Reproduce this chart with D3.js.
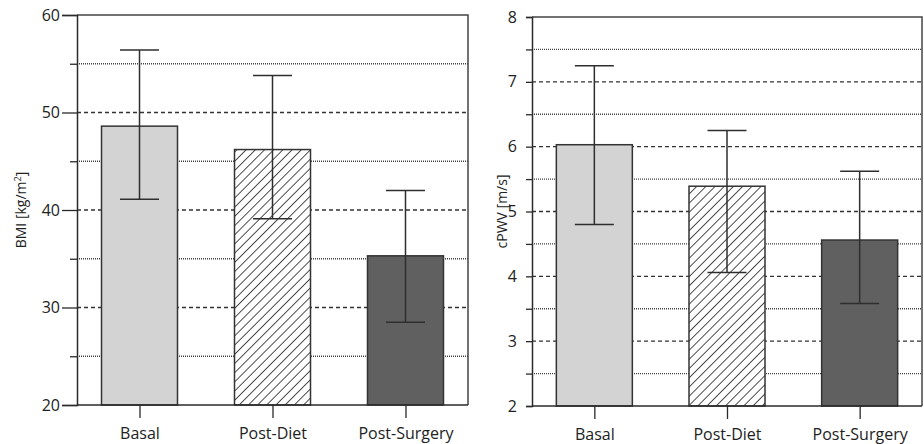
<!DOCTYPE html>
<html>
<head>
<meta charset="utf-8">
<script src="https://cdn.jsdelivr.net/npm/d3@7"></script>
<style>
  body { margin: 0; background: #fff; }
  svg { display: block; font-family: "Open Sans", sans-serif; }
</style>
</head>
<body>
<svg id="chart" width="924" height="444"></svg>
<script>
// data
const categories = ["Basal", "Post-Diet", "Post-Surgery"];
const fills = ["#d3d3d3", "url(#hatch)", "#606060"];

const bmiMean = [48.6, 46.2, 35.3];
const bmiLow  = [41.1, 39.1, 28.5];
const bmiHigh = [56.4, 53.8, 42.0];
const bmiMajor = [20, 30, 40, 50, 60];
const bmiMinor = [25, 35, 45, 55];

const pwvMean = [6.03, 5.39, 4.56];
const pwvLow  = [4.80, 4.06, 3.58];
const pwvHigh = [7.25, 6.25, 5.62];
const pwvMajor = [2, 3, 4, 5, 6, 7, 8];
const pwvMinor = [2.5, 3.5, 4.5, 5.5, 6.5, 7.5];

const svg = d3.select("#chart");
const ink = "#2a2a2a";

// hatch for Post-Diet
const pat = svg.append("defs").append("pattern")
  .attr("id", "hatch")
  .attr("patternUnits", "userSpaceOnUse")
  .attr("width", 6.5).attr("height", 6.5)
  .attr("patternTransform", "rotate(45)");
pat.append("rect").attr("width", 6.5).attr("height", 6.5).attr("fill", "#fff");
pat.append("line")
  .attr("x1", 0).attr("y1", 0).attr("x2", 0).attr("y2", 6.5)
  .attr("stroke", "#222").attr("stroke-width", 1.6);

function drawPanel(p) {
  let g = svg.append("g");
  let y = d3.scaleLinear().domain(p.domain).range([p.bottom, p.top]);
  let x = d3.scalePoint().domain(categories).range([p.left, p.right]).padding(0.47);
  let barW = 76, capW = 39;

  // grid, drawn first so the bars sit on top
  g.selectAll(".major").data(p.major.slice(1, -1)).enter().append("line")
    .attr("x1", p.left).attr("x2", p.right)
    .attr("y1", d => y(d)).attr("y2", d => y(d))
    .attr("stroke", "#333").attr("stroke-width", 1.3)
    .attr("stroke-dasharray", "4,3");
  g.selectAll(".minor").data(p.minor).enter().append("line")
    .attr("x1", p.left).attr("x2", p.right)
    .attr("y1", d => y(d)).attr("y2", d => y(d))
    .attr("stroke", "#444").attr("stroke-width", 1.3)
    .attr("stroke-dasharray", "1,1");

  // bars
  g.selectAll(".bar").data(p.mean).enter().append("rect")
    .attr("x", (d, i) => x(categories[i]) - barW / 2)
    .attr("y", d => y(d))
    .attr("width", barW)
    .attr("height", d => p.bottom - y(d))
    .attr("fill", (d, i) => fills[i])
    .attr("stroke", "#333").attr("stroke-width", 1.5);

  // error bars
  categories.forEach(function(c, i) {
    let cx = x(c);
    g.append("line").attr("x1", cx).attr("x2", cx)
      .attr("y1", y(p.low[i])).attr("y2", y(p.high[i]))
      .attr("stroke", "#2e2e2e").attr("stroke-width", 1.5);
    [p.low[i], p.high[i]].forEach(function(v) {
      g.append("line").attr("x1", cx - capW / 2).attr("x2", cx + capW / 2)
        .attr("y1", y(v)).attr("y2", y(v))
        .attr("stroke", "#2e2e2e").attr("stroke-width", 1.5);
    });
  });

  // frame: top and right
  g.append("path")
    .attr("d", "M" + p.left + "," + p.top + "H" + p.right + "V" + p.bottom)
    .attr("fill", "none").attr("stroke", "#444").attr("stroke-width", 1.5);

  // y axis
  g.append("g").attr("transform", "translate(" + p.left + ",0)")
    .call(d3.axisLeft(y).tickValues(p.major).tickSize(p.majorTick)
      .tickPadding(p.pad).tickFormat(d3.format("d")));
  g.append("g").attr("transform", "translate(" + p.left + ",0)")
    .call(d3.axisLeft(y).tickValues(p.minor).tickSize(p.minorTick).tickFormat(""))
    .call(a => a.select(".domain").remove());

  // x axis
  let xa = g.append("g").attr("transform", "translate(0," + p.bottom + ")")
    .call(d3.axisBottom(x).tickSize(13).tickPadding(10).tickSizeOuter(0));
  xa.select(".domain").attr("d", "M" + p.left + ",0H" + p.right);

  g.selectAll(".tick line").attr("stroke", ink).attr("stroke-width", 1.3);
  g.selectAll(".domain").attr("stroke", ink).attr("stroke-width", 1.5);
  g.selectAll(".tick text").attr("fill", "#222")
    .style("font-size", "16px").style("font-family", "'Open Sans', sans-serif");

  g.append("text")
    .attr("transform", "translate(" + p.titleX + "," + ((p.top + p.bottom) / 2) + ") rotate(-90)")
    .attr("text-anchor", "middle")
    .attr("fill", "#222")
    .style("font-size", "14px")
    .html(p.title);
}

drawPanel({
  domain: [20, 60], top: 15, bottom: 405, left: 77, right: 468,
  major: bmiMajor, minor: bmiMinor, mean: bmiMean, low: bmiLow, high: bmiHigh,
  majorTick: 15, minorTick: 7, pad: 2, titleX: 26,
  title: "BMI [kg/m<tspan dy='-5' style='font-size:9px'>2</tspan><tspan dy='5'>]</tspan>"
});

drawPanel({
  domain: [2, 8], top: 17, bottom: 406, left: 532, right: 922,
  major: pwvMajor, minor: pwvMinor, mean: pwvMean, low: pwvLow, high: pwvHigh,
  majorTick: 6, minorTick: 6, pad: 9, titleX: 507,
  title: "cPWV [m/s]"
});
</script>
</body>
</html>
